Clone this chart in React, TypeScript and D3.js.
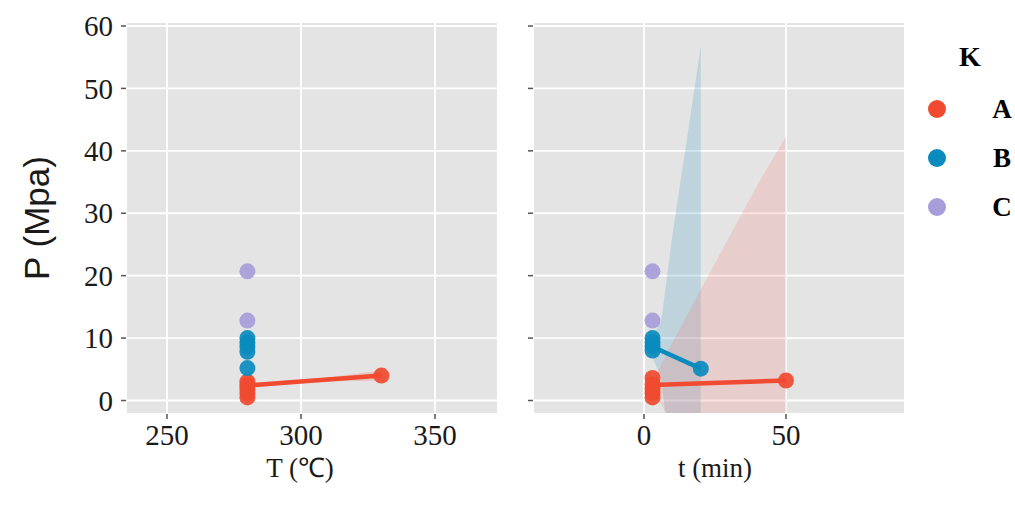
import React from "react";
import * as d3 from "d3";

// ---- data ----
const GROUPS = ["A", "B", "C"];
const P_TICKS = [0, 10, 20, 30, 40, 50, 60];
const T_TICKS = [250, 300, 350];
const t_TICKS = [0, 50];

// left panel: P vs T
const A_T = [280, 280, 280, 280, 280, 330];
const A_P_T = [0.5, 1.2, 1.9, 2.5, 3.0, 4.0];
const B_T = [280, 280, 280, 280, 280];
const B_P_T = [10.0, 9.3, 8.6, 7.8, 5.2];
const C_T = [280, 280];
const C_P_T = [20.7, 12.8];

// right panel: P vs t
const A_t = [3, 3, 3, 3, 3, 50];
const A_P_t = [0.5, 1.2, 1.9, 2.6, 3.6, 3.2];
const B_t = [3, 3, 3, 3, 20];
const B_P_t = [10.0, 9.3, 8.7, 8.0, 5.1];
const C_t = [3, 3];
const C_P_t = [20.7, 12.8];

// fitted lines
const A_FIT_T_X = [280, 330];
const A_FIT_T_Y = [2.4, 4.0];
const A_FIT_t_X = [3, 50];
const A_FIT_t_Y = [2.5, 3.2];
const B_FIT_t_X = [3, 20];
const B_FIT_t_Y = [8.6, 5.1];

// confidence ribbons
const A_RIB_T_X = [280, 305, 330];
const A_RIB_T_HI = [2.8, 3.4, 4.8];
const A_RIB_T_LO = [2.0, 3.0, 3.2];
const A_RIB_t_X = [3, 5, 10, 20, 30, 40, 50];
const A_RIB_t_HI = [3.0, 4.8, 9.3, 17.8, 26.2, 34.6, 42.3];
const A_RIB_t_LO = [2.0, 0.3, -3.9, -11.4, -19.8, -28.2, -36];
const B_RIB_t_X = [3, 6, 10, 15, 20];
const B_RIB_t_HI = [10.4, 12.5, 26.5, 41.5, 56.8];
const B_RIB_t_LO = [6.8, 3.9, -12, -30, -46.6];

// ---- styles ----
const COLORS: Record<string, string> = { A: "#F04A30", B: "#0A8BBE", C: "#A79DDA" };
const W = 1015, H = 513;
const TOP = 23, BOTTOM = 413;
const LEFT_PANEL = [127, 497];
const RIGHT_PANEL = [534, 904];
const SERIF = "'Liberation Serif', 'Times New Roman', serif";
const SANS = "'Liberation Sans', Arial, sans-serif";

export default function App() {
  const y = d3.scaleLinear().domain([0, 60]).range([400.5, 26]);
  const xT = d3.scaleLinear().domain([250, 350]).range([167, 435]);
  const xt = d3.scaleLinear().domain([0, 50]).range([644, 786]);

  const zip = (xs: number[], ys: number[]) => xs.map((x, i) => [x, ys[i]] as [number, number]);
  const zip3 = (xs: number[], lo: number[], hi: number[]) =>
    xs.map((x, i) => ({ x, lo: lo[i], hi: hi[i] }));

  const leftPts: { g: string; d: [number, number][] }[] = [
    { g: "A", d: zip(A_T, A_P_T) },
    { g: "B", d: zip(B_T, B_P_T) },
    { g: "C", d: zip(C_T, C_P_T) },
  ];
  const rightPts: { g: string; d: [number, number][] }[] = [
    { g: "A", d: zip(A_t, A_P_t) },
    { g: "B", d: zip(B_t, B_P_t) },
    { g: "C", d: zip(C_t, C_P_t) },
  ];

  const lineT = d3.line<[number, number]>().x((d) => xT(d[0])).y((d) => y(d[1]));
  const linet = d3.line<[number, number]>().x((d) => xt(d[0])).y((d) => y(d[1]));
  const areaT = d3
    .area<{ x: number; lo: number; hi: number }>()
    .x((d) => xT(d.x))
    .y0((d) => y(d.lo))
    .y1((d) => y(d.hi));
  const areat = d3
    .area<{ x: number; lo: number; hi: number }>()
    .x((d) => xt(d.x))
    .y0((d) => y(d.lo))
    .y1((d) => y(d.hi));

  const panelBg = (x0: number, x1: number, xs: number[], xsc: (v: number) => number, id: string) => (
    <g>
      <rect x={x0} y={TOP} width={x1 - x0} height={BOTTOM - TOP} fill="#E4E4E4" />
      {P_TICKS.map((v) => (
        <line key={"h" + v} x1={x0} x2={x1} y1={y(v)} y2={y(v)} stroke="#FFFFFF" strokeWidth={1.8} />
      ))}
      {xs.map((v) => (
        <line key={"v" + v} x1={xsc(v)} x2={xsc(v)} y1={TOP} y2={BOTTOM} stroke="#FFFFFF" strokeWidth={1.8} />
      ))}
      {P_TICKS.map((v) => (
        <line key={"yt" + v} x1={x0 - 6} x2={x0 - 1} y1={y(v)} y2={y(v)} stroke="#555" strokeWidth={1.5} />
      ))}
      {xs.map((v) => (
        <line key={"xt" + v} x1={xsc(v)} x2={xsc(v)} y1={BOTTOM + 1} y2={BOTTOM + 6} stroke="#555" strokeWidth={1.5} />
      ))}
      <clipPath id={id}>
        <rect x={x0} y={TOP} width={x1 - x0} height={BOTTOM - TOP} />
      </clipPath>
    </g>
  );

  return (
    <svg
      width={W}
      height={H}
      style={{ position: "absolute", left: 0, top: 0, background: "#fff" }}
    >
      <rect width={W} height={H} fill="#fff" />
      {panelBg(LEFT_PANEL[0], LEFT_PANEL[1], T_TICKS, xT, "clipL")}
      {panelBg(RIGHT_PANEL[0], RIGHT_PANEL[1], t_TICKS, xt, "clipR")}

      {/* left panel marks */}
      <g clipPath="url(#clipL)">
        <path d={areaT(zip3(A_RIB_T_X, A_RIB_T_LO, A_RIB_T_HI)) || ""} fill={COLORS.A} fillOpacity={0.2} />
        {leftPts.map((s) =>
          s.d.map((p, i) => (
            <circle key={s.g + i} cx={xT(p[0])} cy={y(p[1])} r={8} fill={COLORS[s.g]} fillOpacity={0.92} />
          ))
        )}
        <path d={lineT(zip(A_FIT_T_X, A_FIT_T_Y)) || ""} stroke={COLORS.A} strokeWidth={4.5} fill="none" />
      </g>

      {/* right panel marks */}
      <g clipPath="url(#clipR)">
        <path d={areat(zip3(B_RIB_t_X, B_RIB_t_LO, B_RIB_t_HI)) || ""} fill="#4F9FC4" fillOpacity={0.25} />
        <path d={areat(zip3(A_RIB_t_X, A_RIB_t_LO, A_RIB_t_HI)) || ""} fill="#F47C7C" fillOpacity={0.22} />
        {rightPts.map((s) =>
          s.d.map((p, i) => (
            <circle key={s.g + i} cx={xt(p[0])} cy={y(p[1])} r={8} fill={COLORS[s.g]} fillOpacity={0.92} />
          ))
        )}
        <path d={linet(zip(A_FIT_t_X, A_FIT_t_Y)) || ""} stroke={COLORS.A} strokeWidth={4.5} fill="none" />
        <path d={linet(zip(B_FIT_t_X, B_FIT_t_Y)) || ""} stroke={COLORS.B} strokeWidth={4.5} fill="none" />
      </g>

      {/* y tick labels */}
      {P_TICKS.map((v) => (
        <text key={"yl" + v} x={113} y={y(v)} dy="0.35em" textAnchor="end" fontFamily={SERIF} fontSize={29} fill="#1a1a1a">
          {v}
        </text>
      ))}
      {/* x tick labels */}
      {T_TICKS.map((v) => (
        <text key={"xl" + v} x={xT(v)} y={445} textAnchor="middle" fontFamily={SERIF} fontSize={29} fill="#1a1a1a">
          {v}
        </text>
      ))}
      {t_TICKS.map((v) => (
        <text key={"tl" + v} x={xt(v)} y={445} textAnchor="middle" fontFamily={SERIF} fontSize={29} fill="#1a1a1a">
          {v}
        </text>
      ))}

      {/* axis titles */}
      <text x={300} y={477} textAnchor="middle" fontFamily={SERIF} fontSize={27} fill="#1a1a1a">
        T (℃)
      </text>
      <text x={715} y={477} textAnchor="middle" fontFamily={SERIF} fontSize={27} fill="#1a1a1a">
        t (min)
      </text>
      <text
        transform={`translate(37, ${(TOP + BOTTOM) / 2}) rotate(-90)`}
        textAnchor="middle"
        dy="0.35em"
        fontFamily={SANS}
        fontSize={35}
        fill="#1a1a1a"
      >
        P (Mpa)
      </text>

      {/* legend */}
      <text x={970} y={66} textAnchor="middle" fontFamily={SERIF} fontWeight="bold" fontSize={28} fill="#000">
        K
      </text>
      {GROUPS.map((g, i) => (
        <g key={"lg" + g}>
          <circle cx={937} cy={109 + i * 49} r={9} fill={COLORS[g]} />
          <text x={1002} y={109 + i * 49} dy="0.35em" textAnchor="middle" fontFamily={SERIF} fontWeight="bold" fontSize={27} fill="#000">
            {g}
          </text>
        </g>
      ))}
    </svg>
  );
}
